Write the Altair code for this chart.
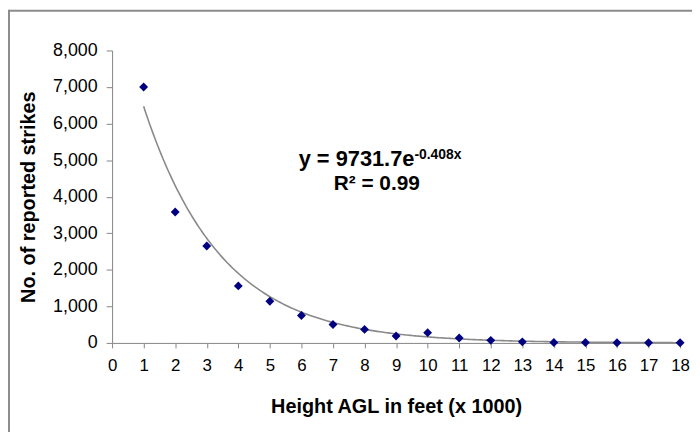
import altair as alt
import pandas as pd

# ---- data ----
height_k = [1, 2, 3, 4, 5, 6, 7, 8, 9, 10, 11, 12, 13, 14, 15, 16, 17, 18]
strikes = [7000, 3580, 2650, 1560, 1140, 750, 505, 370, 190, 280, 135, 70, 30, 10, 10, 5, 5, 5]

# fitted trend line, as printed on the chart
fit_a = 9731.7
fit_k = -0.408
eq_main = ["y = 9731.7e"]
eq_sup = ["-0.408x"]
eq_r2 = ["R² = 0.99"]

x_title = "Height AGL in feet (x 1000)"
y_title = "No. of reported strikes"
x_ticks = list(range(0, 19))
y_ticks = list(range(0, 8001, 1000))

FONT = "Liberation Sans"
AXIS_GRAY = "#858585"

df = pd.DataFrame({"h": height_k, "n": strikes})

xscale = alt.Scale(domain=[0, 18], nice=False, zero=True)
yscale = alt.Scale(domain=[0, 8000], nice=False)

xaxis = alt.Axis(
    values=x_ticks, format="d", title=x_title, grid=False, labelOverlap=False,
    domainColor=AXIS_GRAY, tickColor=AXIS_GRAY, tickSize=5,
    labelFont=FONT, labelFontSize=17, labelColor="#000000", labelPadding=10,
    titleFont=FONT, titleFontSize=20, titleFontWeight="bold", titleColor="#000000",
    titlePadding=23, labelFlush=False,
)
yaxis = alt.Axis(
    values=y_ticks, format=",.0f", title=y_title, grid=False,
    labelOverlap=False,
    domainColor=AXIS_GRAY, tickColor=AXIS_GRAY, tickSize=6,
    labelFont=FONT, labelFontSize=18, labelColor="#000000", labelPadding=9,
    titleFont=FONT, titleFontSize=20, titleFontWeight="bold", titleColor="#000000",
    titlePadding=14,
)

trend = (
    alt.Chart(alt.sequence(1, 18.001, 0.05, as_="h"))
    .transform_calculate(n=f"{fit_a} * exp({fit_k} * datum.h)")
    .mark_line(color="#8a8a8a", strokeWidth=1.6, clip=True)
    .encode(x=alt.X("h:Q", scale=xscale, axis=xaxis), y=alt.Y("n:Q", scale=yscale, axis=yaxis))
)

points = (
    alt.Chart(df)
    .mark_point(shape="diamond", filled=True, color="#000080", size=80, opacity=1)
    .encode(x=alt.X("h:Q", scale=xscale, axis=xaxis), y=alt.Y("n:Q", scale=yscale, axis=yaxis))
)

t1 = alt.Chart(pd.DataFrame({"t": eq_main})).mark_text(
    font=FONT, fontSize=22, fontWeight="bold", align="right", baseline="alphabetic", color="#000000"
).encode(text="t:N", x=alt.value(305), y=alt.value(117))

t2 = alt.Chart(pd.DataFrame({"t": eq_sup})).mark_text(
    font=FONT, fontSize=14, fontWeight="bold", align="left", baseline="alphabetic", color="#000000"
).encode(text="t:N", x=alt.value(305), y=alt.value(109))

t3 = alt.Chart(pd.DataFrame({"t": eq_r2})).mark_text(
    font=FONT, fontSize=21, fontWeight="bold", align="center", baseline="alphabetic", color="#000000"
).encode(text="t:N", x=alt.value(267), y=alt.value(141))

# outer frame of the picture (left and top edges)
frame_left = alt.Chart(pd.DataFrame({"a": [0]})).mark_rule(color="#8c8c8c", strokeWidth=2).encode(
    x=alt.value(-104), y=alt.value(-41), y2=alt.value(400)
)
frame_top = alt.Chart(pd.DataFrame({"a": [0]})).mark_rule(color="#8c8c8c", strokeWidth=2).encode(
    x=alt.value(-104), x2=alt.value(600), y=alt.value(-40)
)

chart = (
    alt.layer(trend, points, t1, t2, t3, frame_left, frame_top)
    .properties(
        width=573, height=295,
        autosize=alt.AutoSizeParams(type="none"),
        padding={"left": 105, "top": 41, "right": 12, "bottom": 88},
        background="#ffffff",
    )
    .configure_view(stroke=None)
)

chart.save("out.html", embed_options={"renderer": "svg", "actions": False})
